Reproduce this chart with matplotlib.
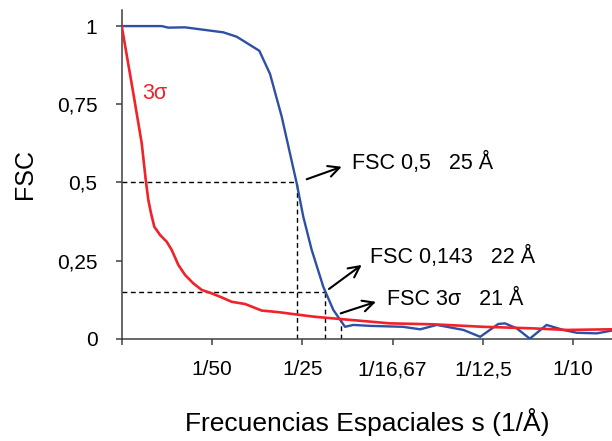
import matplotlib
matplotlib.use("Agg")
import matplotlib.pyplot as plt

plt.rcParams['font.family'] = ['Liberation Sans', 'DejaVu Sans']

# Blue FSC curve
fsc_s = [0.0, 0.00886, 0.01032, 0.01402, 0.0225, 0.02547, 0.03048, 0.03285, 0.03544,
         0.03876, 0.04022, 0.04208, 0.04465, 0.04687, 0.04946, 0.0513, 0.0550, 0.0623,
         0.0661, 0.0698, 0.0757, 0.0794, 0.0834, 0.0849, 0.0875, 0.0904, 0.0941, 0.0978,
         0.1008, 0.1052, 0.1086]
fsc_v = [1.0, 1.0, 0.995, 0.996, 0.980, 0.966, 0.921, 0.847, 0.710,
         0.497, 0.390, 0.284, 0.166, 0.092, 0.038, 0.044, 0.041, 0.038,
         0.030, 0.044, 0.028, 0.006, 0.047, 0.049, 0.033, 0.0, 0.044, 0.028,
         0.019, 0.017, 0.026]

# Red 3-sigma curve
sig_s = [0.0, 0.00257, 0.00443, 0.00532, 0.00589, 0.00649, 0.00722, 0.00848, 0.00997,
         0.01107, 0.01254, 0.01402, 0.01586, 0.01772, 0.01993, 0.02215, 0.02436, 0.02731,
         0.0310, 0.03468, 0.03838, 0.04281, 0.04835, 0.05942, 0.06901, 0.08009, 0.09116,
         0.09856, 0.10853]
sig_v = [1.0, 0.785, 0.625, 0.508, 0.444, 0.401, 0.358, 0.332, 0.310,
         0.284, 0.236, 0.204, 0.177, 0.156, 0.145, 0.132, 0.118, 0.111,
         0.090, 0.085, 0.078, 0.070, 0.063, 0.049, 0.046, 0.038, 0.033,
         0.028, 0.030]

xtick_pos = [0.0, 0.02, 0.04, 0.06, 0.08, 0.10]
xtick_labels = ['', '1/50', '1/25', '1/16,67', '1/12,5', '1/10']
ytick_pos = [0, 0.25, 0.5, 0.75, 1.0]
ytick_labels = ['0', '0,25', '0,5', '0,75', '1']

# Resolution markers
res_s = [0.0388, 0.0450, 0.0485]
res_v = [0.5, 0.148, 0.063]
res_texts = ['FSC 0,5   25 Å', 'FSC 0,143   22 Å', 'FSC 3σ   21 Å']

blue = '#2D4FA6'
red = '#F0222A'

fig = plt.figure(figsize=(6.12, 4.41), dpi=100)
ax = fig.add_axes([0.1989, 0.232, 0.8011, 0.745])

ax.plot(fsc_s, fsc_v, color=blue, lw=1.7, zorder=3)
ax.plot(sig_s, sig_v, color=red, lw=1.9, zorder=4)

dash = dict(color='black', lw=1.0, ls=(0, (3.5, 2.5)), zorder=2)
# horizontal dashed
ax.plot([0, res_s[0]], [res_v[0], res_v[0]], **dash)
ax.plot([0, res_s[1]], [res_v[1], res_v[1]], **dash)
# vertical dashed
for s, v in zip(res_s, res_v):
    ax.plot([s, s], [0, v], **dash)

# annotations
arrows = [((0.04097, 0.510), (0.04873, 0.550)),
          ((0.04591, 0.159), (0.05316, 0.236)),
          ((0.04850, 0.081), (0.05632, 0.118))]
text_pos = [(0.05094, 0.561), (0.0550, 0.260), (0.05869, 0.126)]
for (tail, head), (tx, ty), t in zip(arrows, text_pos, res_texts):
    ax.annotate('', xy=head, xytext=tail,
                arrowprops=dict(arrowstyle='->,head_length=0.8,head_width=0.4',
                                color='black', lw=1.5, shrinkA=0, shrinkB=0))
    ax.text(tx, ty, t, fontsize=15.5, va='center', ha='left', color='black')

ax.text(0.00465, 0.783, '3σ', color=red, fontsize=15.5, va='center', ha='left')

ax.set_xlim(0, 0.1086)
ax.set_ylim(0, 1.051)
ax.set_xticks(xtick_pos)
ax.set_xticklabels(xtick_labels)
ax.set_yticks(ytick_pos)
ax.set_yticklabels(ytick_labels)

for sp in ['top', 'right']:
    ax.spines[sp].set_visible(False)
for sp in ['left', 'bottom']:
    ax.spines[sp].set_color('#404040')
    ax.spines[sp].set_linewidth(1.1)
ax.tick_params(axis='both', direction='out', length=4.5, width=1.1, color='#404040',
               labelsize=15, labelcolor='black')
ax.tick_params(axis='y', pad=13)
ax.tick_params(axis='x', pad=11)

ax.set_xlabel('Frecuencias Espaciales s (1/Å)', fontsize=19, labelpad=21)
ax.set_ylabel('FSC', fontsize=18, labelpad=14)

fig.savefig('out.png', dpi=100)
